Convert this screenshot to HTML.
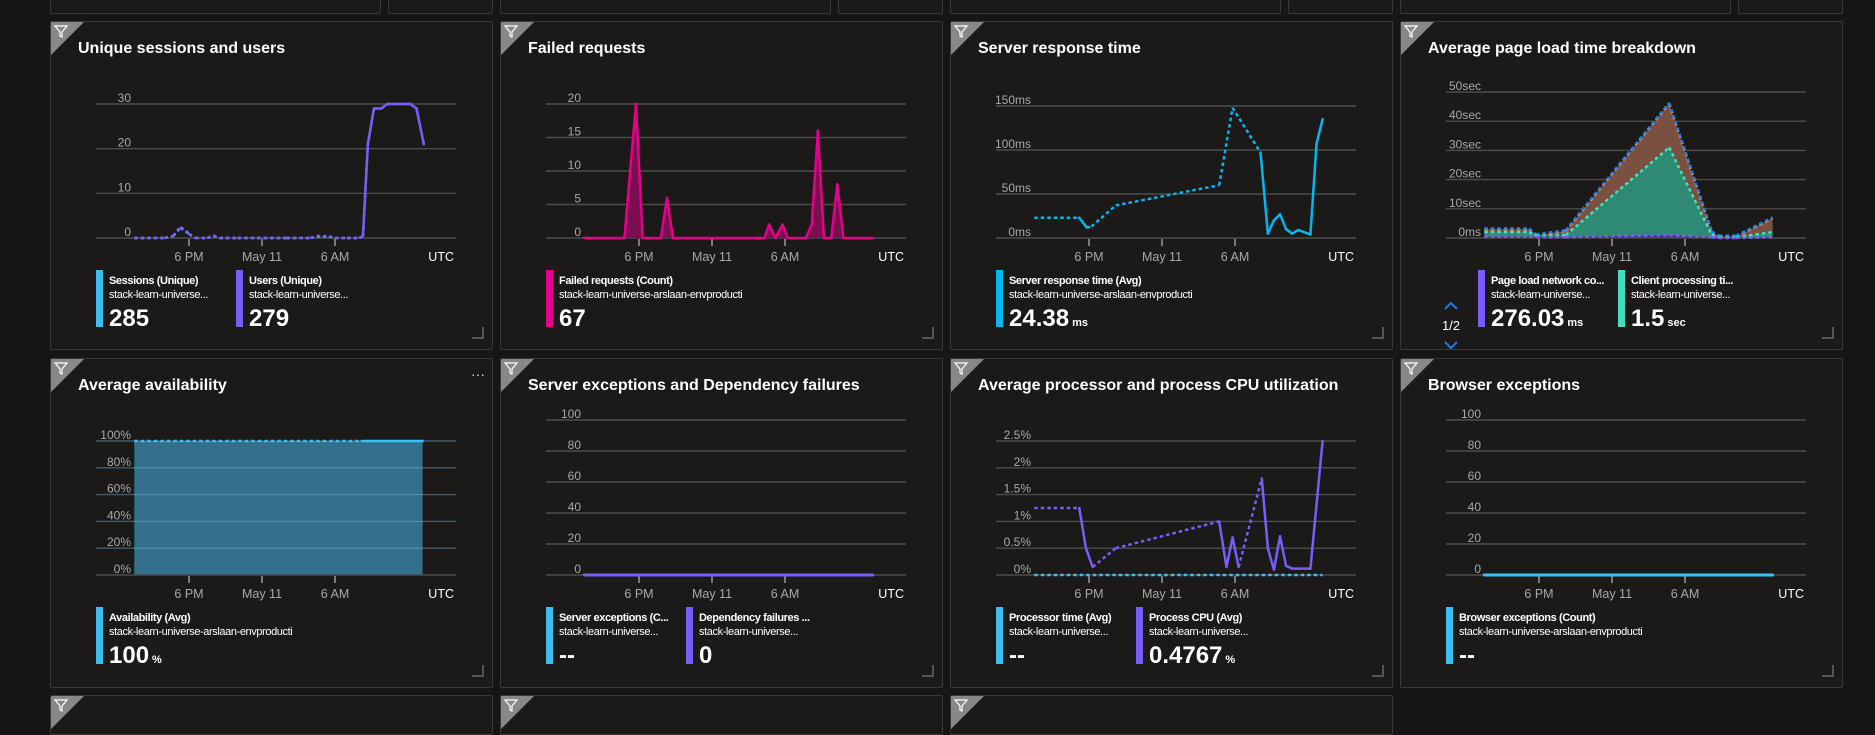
<!DOCTYPE html>
<html><head><meta charset="utf-8">
<style>
html,body{margin:0;padding:0;background:#161616;width:1875px;height:702px;overflow:hidden;font-family:"Liberation Sans",sans-serif;}
.panel{position:absolute;background:#1b1a19;border:1px solid #383838;border-radius:2px;box-sizing:border-box;overflow:hidden;}
svg text{font-family:"Liberation Sans",sans-serif;}
</style></head><body>
<div id="root"></div>
<script>
// ---------- chart data ----------
const xTickLabels = ["6 PM","May 11","6 AM"];
const xTickHours = [6,12,18];

const usersHours = [1.5,4,4.7,5.3,6,6.5,7.5,8,8.5,10,14,16,16.5,17,17.5,18,19,20,20.3,20.7,21.2,21.8,22.3,24.2,24.7,25.3];
const usersValues = [0,0,0.5,2.5,1,0,0,0.6,0,0,0,0,0.5,0.4,0.4,0,0,0,0.5,21,29,29,30,30,29,21];
const usersDashed = [1,1,1,1,1,1,1,1,1,1,1,1,1,1,1,1,1,1,0,0,0,0,0,0,0,0];
const sessionsValues = [0,0,0.4,2.3,0.9,0,0,0.5,0,0,0,0,0.3,0.3,0.3,0,0,0,0.4,21,29,29,30,30,29,21];
const sessionsTicks = [0,10,20,30];

const failedHours = [1.5,4.8,5.75,6.3,7.8,8.3,8.8,16.3,16.7,17.2,17.8,18.2,19.7,20.2,20.7,21.2,21.8,22.3,22.8,25.2];
const failedValues = [0,0,20,0,0,6,0,0,2,0,2,0,0,2,16,0,0,8,0,0];
const failedTicks = [0,5,10,15,20];

const respHours = [1.5,5.2,5.8,6.2,8.2,16.7,17.8,20.1,20.7,21.2,21.7,22.2,22.7,23.2,24.2,24.7,25.2];
const respValues = [23,23,12,13,37,60,148,97,5,20,27,10,5,9,4,107,135];
const respDashed = [1,0,1,1,1,1,1,0,0,0,0,0,0,0,0,0,0];
const respTicks = [0,50,100,150];
const respTickLabels = ["0ms","50ms","100ms","150ms"];

const pageHours = [1.5,5.2,5.75,8.2,16.7,20.2,20.8,22.2,25.2];
const pageNetwork = [0.5,0.5,0.3,0.3,1,0.3,0,0,0.3];
const pageClient = [1.5,1.5,0.5,0.7,30,0.7,0.3,0.3,1.7];
const pageOther = [1,1,0.2,1.4,15,1,0.2,0.2,4.8];
const pageTicks = [0,10,20,30,40,50];
const pageTickLabels = ["0ms","10sec","20sec","30sec","40sec","50sec"];

const availHours = [1.5,20.2,25.2];
const availValues = [100,100,100];
const availTicks = [0,20,40,60,80,100];
const availTickLabels = ["0%","20%","40%","60%","80%","100%"];

const countTicks = [0,20,40,60,80,100];
const excHours = [1.5,25.2];
const excValues = [0,0];

const cpuHours = [1.5,5.2,5.75,6.3,8.2,16.7,17.3,17.8,18.3,20.2,20.7,21.2,21.7,22.2,22.7,24.2,25.2];
const cpuValues = [1.25,1.25,0.5,0.15,0.5,1.0,0.15,0.7,0.15,1.8,0.5,0.1,0.72,0.17,0.12,0.12,2.5];
const cpuDashed = [1,0,0,1,1,0,0,0,1,0,0,0,0,0,0,0,0];
const procHours = [1.5,25.2];
const procValues = [0,0];
const cpuTicks = [0,0.5,1,1.5,2,2.5];
const cpuTickLabels = ["0%","0.5%","1%","1.5%","2%","2.5%"];

// ---------- helpers ----------
const NS="http://www.w3.org/2000/svg";
const root=document.getElementById('root');
function el(tag,attrs,parent){const e=document.createElementNS(NS,tag);for(const k in attrs)e.setAttribute(k,attrs[k]);if(parent)parent.appendChild(e);return e;}
function xPos(h){return 138+(h-6)*73/6;}
function makeY(top,max){return v=>216-(v/max)*(216-top);}

function makePanel(px,py,w,h,name){
  const d=document.createElement('div');
  d.className='panel';
  d.style.left=px+'px';d.style.top=py+'px';d.style.width=w+'px';d.style.height=h+'px';
  
  
  root.appendChild(d);
  const s=el('svg',{width:w,height:h},null);
  d.appendChild(s);
  return s;
}
function filterIcon(s){
  const g=el('g',{},s);
  
  
  el('polygon',{points:'0,0 33,0 0,33',fill:'#8a8886'},g);
  el('path',{d:'M4,4 L16,4 L11,10 L11,15 L9,14 L9,10 Z',fill:'none',stroke:'#fff','stroke-width':1.2},g);
}
function resizeCorner(s,w,h){
  const p=el('path',{d:`M${w-22},${h-13} L${w-11},${h-13} L${w-11},${h-24}`,fill:'none',stroke:'#555','stroke-width':2},s);
  
  
}
function title(s,t){
  const e=el('text',{x:27,y:31,fill:'#fff','font-size':'16px','font-weight':'bold'},s);
  e.textContent=t;
  
  
}
function axes(s,ticks,labels,top,max){
  const y=makeY(top,max);
  ticks.forEach((t,i)=>{
    const l=el('line',{x1:45,x2:405,y1:y(t),y2:y(t),stroke:'#4c4c4c','stroke-width':1.4},s);
    
    
    const tx=el('text',{x:80,y:y(t)-2,fill:'#a8a8a8','font-size':'12px','text-anchor':'end'},s);
    tx.textContent=labels?labels[i]:String(t);
    
    
  });
  xTickHours.forEach((hh,i)=>{
    el('line',{x1:xPos(hh),x2:xPos(hh),y1:217,y2:224,stroke:'#bbb','stroke-width':1.2},s);
    const tx=el('text',{x:xPos(hh),y:239,fill:'#a8a8a8','font-size':'12.5px','text-anchor':'middle'},s);
    tx.textContent=xTickLabels[i];
    
    
  });
  const u=el('text',{x:403,y:239,fill:'#fff','font-size':'12.5px','text-anchor':'end'},s);
  u.textContent='UTC';
  
  
  return y;
}
function line(s,hours,vals,y,color,dashed,width,name){
  for(let i=0;i<hours.length-1;i++){
    const d=dashed===true?1:(dashed?dashed[i]:0);
    const l=el('line',{x1:xPos(hours[i]),y1:y(vals[i]),x2:xPos(hours[i+1]),y2:y(vals[i+1]),stroke:color,'stroke-width':width||2.5,'stroke-linecap':d?'butt':'round'},s);
    if(d)l.setAttribute('stroke-dasharray','3.5 3');
    
    
  }
}
function area(s,hours,lower,upper,y,fill,name){
  let d='M'+hours.map((h,i)=>xPos(h)+','+y(upper[i])).join(' L');
  for(let i=hours.length-1;i>=0;i--)d+=' L'+xPos(hours[i])+','+y(lower[i]);
  const p=el('path',{d:d+'Z',fill:fill},s);
  
  
}
function legend(s,x,color,t,sub,val,unit){
  const g=el('g',{},s);
  
  
  el('rect',{x:x,y:248,width:7,height:57,fill:color},g);
  const a=el('text',{x:x+13,y:262,fill:'#fff','font-size':'11px','font-weight':'bold','letter-spacing':'-0.4'},g);a.textContent=t;
  const b=el('text',{x:x+13,y:276,fill:'#fff','font-size':'11px','letter-spacing':'-0.4'},g);b.textContent=sub;
  const c=el('text',{x:x+13,y:304,fill:'#fff','font-size':'24px','font-weight':'bold'},g);c.textContent=val;
  if(unit){const uu=el('tspan',{'font-size':'11px',dx:3},c);uu.textContent=unit;}
}
const W=443;
const SUB='stack-learn-universe-arslaan-envproducti';
const SUBS='stack-learn-universe...';

// top partial row
[50,500,950,1400].forEach(px=>{
  makePanel(px,-20,331,34,'partial-tile');
  makePanel(px+338,-20,105,34,'partial-tile');
});
// bottom partial row
[50,500,950].forEach(px=>{const s=makePanel(px,695,W,40,'partial-tile');filterIcon(s);});

let s,y;
// 1 sessions & users
s=makePanel(50,21,W,329,'sessions-users-tile');filterIcon(s);title(s,'Unique sessions and users');
y=axes(s,sessionsTicks,null,82,30);
line(s,usersHours,sessionsValues,y,'#3ebef0',true,2.5,'sessions-line');
line(s,usersHours,usersValues,y,'#7a5cfa',usersDashed,2.5,'users-line');
legend(s,45,'#3ebef0','Sessions (Unique)',SUBS,'285');
legend(s,185,'#7a5cfa','Users (Unique)',SUBS,'279');
resizeCorner(s,W,329);

// 2 failed requests
s=makePanel(500,21,W,329,'failed-requests-tile');filterIcon(s);title(s,'Failed requests');
y=axes(s,failedTicks,null,82,20);
area(s,failedHours,failedHours.map(()=>0),failedValues,y,'#7a0f50','failed-area');
line(s,failedHours,failedValues,y,'#e3008c',false,2.5,'failed-line');
legend(s,45,'#e3008c','Failed requests (Count)',SUB,'67');
resizeCorner(s,W,329);

// 3 server response time
s=makePanel(950,21,W,329,'server-response-tile');filterIcon(s);title(s,'Server response time');
y=axes(s,respTicks,respTickLabels,84,150);
line(s,respHours,respValues,y,'#00b7f0',respDashed,2.5,'response-line');
legend(s,45,'#00b7f0','Server response time (Avg)',SUB,'24.38','ms');
resizeCorner(s,W,329);

// 4 page load
s=makePanel(1400,21,W,329,'page-load-tile');filterIcon(s);title(s,'Average page load time breakdown');
y=axes(s,pageTicks,pageTickLabels,70,50);
const lvl1=pageNetwork, lvl2=pageNetwork.map((v,i)=>v+pageClient[i]), lvl3=lvl2.map((v,i)=>v+pageOther[i]);
area(s,pageHours,lvl2,lvl3,y,'#7a5040','page-other-area');
area(s,pageHours,lvl1,lvl2,y,'#2e8a72','page-client-area');
area(s,pageHours,pageHours.map(()=>0),lvl1,y,'#4a3a8a','page-network-area');
line(s,pageHours,lvl3,y,'#f0a070',true,2.5,'page-other-line');
line(s,pageHours,lvl3.map(v=>v+0.3),y,'#1a7ae8',true,2.5,'page-total-line');
line(s,pageHours,lvl2,y,'#40e0c0',true,2.5,'page-client-line');
line(s,pageHours,lvl1,y,'#7a5cfa',true,2.5,'page-network-line');
(function(){const g=el('g',{},s);
el('path',{d:'M44,287 L50,281 L56,287',fill:'none',stroke:'#1a7ae8','stroke-width':2},g);
const t=el('text',{x:50,y:308,fill:'#fff','font-size':'13px','text-anchor':'middle'},g);t.textContent='1/2';
el('path',{d:'M44,320 L50,326 L56,320',fill:'none',stroke:'#1a7ae8','stroke-width':2},g);})();
legend(s,77,'#7a5cfa','Page load network co...',SUBS,'276.03','ms');
legend(s,217,'#40e0c0','Client processing ti...',SUBS,'1.5','sec');
resizeCorner(s,W,329);

// 5 availability
s=makePanel(50,358,W,330,'availability-tile');filterIcon(s);title(s,'Average availability');
y=makeY(82,100);
area(s,availHours,availHours.map(()=>0),availValues,y,'#33708c','availability-area');
y=axes(s,availTicks,availTickLabels,82,100);
s.querySelectorAll('line').forEach(l=>{if(+l.getAttribute('x1')===45&&+l.getAttribute('y1')<216)l.setAttribute('stroke','rgba(120,170,200,0.45)');});
line(s,availHours,availValues,y,'#3ebef0',[1,0],2.5,'availability-line');
(function(){const t=el('text',{x:427,y:20,fill:'#ddd','font-size':'14px','text-anchor':'middle'},s);t.textContent='···';})();
legend(s,45,'#3ebef0','Availability (Avg)',SUB,'100','%');
resizeCorner(s,W,330);

// 6 server exceptions & dependency failures
s=makePanel(500,358,W,330,'exceptions-dependency-tile');filterIcon(s);title(s,'Server exceptions and Dependency failures');
y=axes(s,countTicks,null,61,100);
line(s,excHours,excValues,y,'#7a5cfa',false,3,'dependency-line');
legend(s,45,'#3ebef0','Server exceptions (C...',SUBS,'--');
legend(s,185,'#7a5cfa','Dependency failures ...',SUBS,'0');
resizeCorner(s,W,330);

// 7 CPU
s=makePanel(950,358,W,330,'cpu-tile');filterIcon(s);title(s,'Average processor and process CPU utilization');
y=axes(s,cpuTicks,cpuTickLabels,82,2.5);
line(s,procHours,procValues,y,'#3ebef0',true,2.5,'processor-time-line');
line(s,cpuHours,cpuValues,y,'#7a5cfa',cpuDashed,2.5,'process-cpu-line');
legend(s,45,'#3ebef0','Processor time (Avg)',SUBS,'--');
legend(s,185,'#7a5cfa','Process CPU (Avg)',SUBS,'0.4767','%');
resizeCorner(s,W,330);

// 8 browser exceptions
s=makePanel(1400,358,W,330,'browser-exceptions-tile');filterIcon(s);title(s,'Browser exceptions');
y=axes(s,countTicks,null,61,100);
line(s,excHours,excValues,y,'#3ebef0',false,3,'browser-exceptions-line');
legend(s,45,'#3ebef0','Browser exceptions (Count)',SUB,'--');
resizeCorner(s,W,330);
</script>
</body></html>
